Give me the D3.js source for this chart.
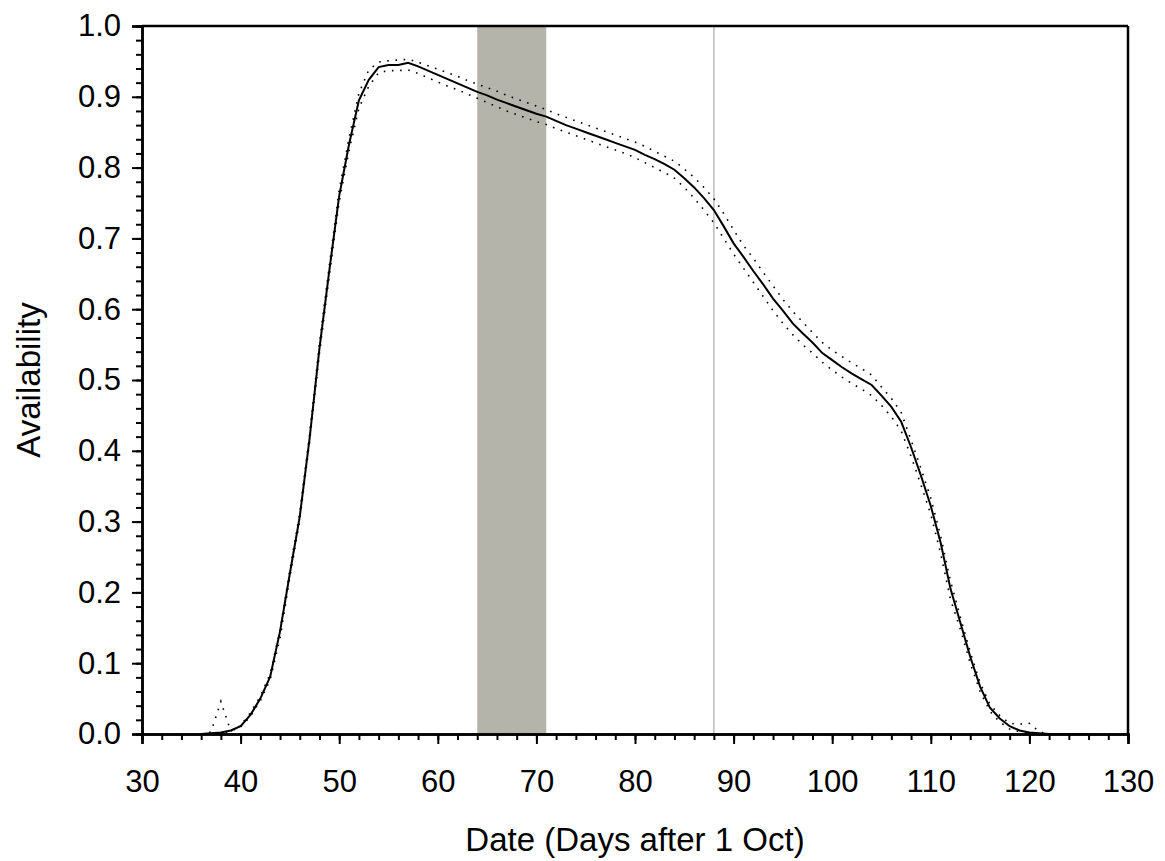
<!DOCTYPE html>
<html>
<head>
<meta charset="utf-8">
<script src="https://cdn.jsdelivr.net/npm/d3@7"></script>
<style>
body{margin:0;background:#fff;}
text{font-family:"Liberation Sans",Arial,sans-serif;fill:#000;}
</style>
</head>
<body>
<svg id="chart" width="1165" height="861"></svg>
<script>
// days after 1 Oct
var days = d3.range(36, 127);
var mean = [0,0.001,0.002,0.005,0.011,0.027,0.05,0.081,0.145,0.227,
  0.307,0.418,0.545,0.655,0.76,0.833,0.895,0.924,0.942,0.945,
  0.945,0.948,0.943,0.937,0.931,0.925,0.919,0.913,0.907,0.902,
  0.896,0.891,0.886,0.881,0.876,0.872,0.866,0.86,0.855,0.85,
  0.845,0.84,0.835,0.83,0.825,0.818,0.812,0.805,0.797,0.785,
  0.772,0.757,0.74,0.717,0.693,0.674,0.654,0.635,0.615,0.598,
  0.58,0.566,0.553,0.538,0.528,0.518,0.509,0.501,0.493,0.478,
  0.462,0.441,0.405,0.365,0.322,0.27,0.205,0.157,0.109,0.067,
  0.037,0.022,0.011,0.005,0.002,0.001,0,0,0,0,0];
var upper = [0,0.003,0.046,0.004,0.012,0.03,0.053,0.085,0.147,0.232,
  0.312,0.423,0.552,0.662,0.768,0.842,0.905,0.938,0.949,0.951,
  0.952,0.953,0.949,0.944,0.939,0.934,0.929,0.923,0.918,0.913,
  0.908,0.902,0.897,0.892,0.887,0.882,0.876,0.871,0.866,0.861,
  0.856,0.851,0.846,0.841,0.836,0.83,0.823,0.816,0.809,0.798,
  0.786,0.772,0.756,0.735,0.712,0.69,0.672,0.652,0.633,0.614,
  0.597,0.582,0.567,0.553,0.542,0.533,0.524,0.516,0.507,0.49,
  0.474,0.454,0.415,0.375,0.333,0.28,0.216,0.165,0.116,0.072,
  0.042,0.026,0.015,0.014,0.015,0.003,0,0,0,0,0];
var lower = [0,0,0.001,0.004,0.01,0.025,0.047,0.077,0.135,0.222,
  0.302,0.413,0.538,0.648,0.752,0.824,0.884,0.915,0.934,0.937,
  0.937,0.938,0.933,0.927,0.921,0.915,0.91,0.904,0.898,0.892,
  0.886,0.88,0.875,0.87,0.865,0.861,0.855,0.85,0.845,0.84,
  0.835,0.83,0.825,0.82,0.814,0.807,0.8,0.793,0.785,0.772,
  0.757,0.74,0.722,0.7,0.678,0.658,0.638,0.618,0.598,0.58,
  0.564,0.55,0.538,0.525,0.514,0.504,0.495,0.487,0.478,0.464,
  0.448,0.428,0.392,0.352,0.31,0.255,0.19,0.148,0.1,0.06,
  0.032,0.017,0.007,0.003,0.001,0,0,0,0,0,0];
var band = [64, 71];     // shaded period
var marker = 88;         // vertical reference line
var xTicks = d3.range(30, 131, 10);
var yTicks = d3.range(0, 1.01, 0.1);

var svg = d3.select("#chart");
var m = {left:142, right:37, top:26, bottom:127};
var W = 1165, H = 861;
var x = d3.scaleLinear().domain([30,130]).range([m.left, W-m.right]);
var y = d3.scaleLinear().domain([0,1]).range([H-m.bottom, m.top]);

svg.append("rect")
    .attr("x", x(band[0])).attr("y", y(1))
    .attr("width", x(band[1])-x(band[0]))
    .attr("height", y(0)-y(1))
    .attr("fill", "#b4b4ab");

svg.append("line")
    .attr("x1", x(marker)).attr("x2", x(marker))
    .attr("y1", y(0)).attr("y2", y(1))
    .attr("stroke", "#bbbbbb").attr("stroke-width", 1.5);

function series(vals){
    return days.map(function(d,i){return [d, vals[i]];});
}
var line = d3.line().x(function(d){return x(d[0]);}).y(function(d){return y(d[1]);});

[upper, lower].forEach(function(v){
    svg.append("path")
        .attr("d", line(series(v)))
        .attr("fill", "none")
        .attr("stroke", "#000")
        .attr("stroke-width", 1.6)
        .attr("stroke-dasharray", "1.6,6.6");
});
svg.append("path")
    .attr("d", line(series(mean)))
    .attr("fill", "none")
    .attr("stroke", "#000")
    .attr("stroke-width", 2);

// axes
var xAxis = d3.axisBottom(x).tickValues(xTicks).tickSize(10).tickPadding(26);
var xMinor = d3.axisBottom(x).tickValues(d3.range(30, 131, 2)).tickSize(6).tickFormat("");
var yAxis = d3.axisLeft(y).tickValues(yTicks).tickSize(10).tickPadding(11).tickFormat(d3.format(".1f"));
var yMinor = d3.axisLeft(y).tickValues(d3.range(0, 1.001, 0.02)).tickSize(6).tickFormat("");

function styleAxis(g){
    g.select(".domain").attr("stroke-width", 2.5);
    g.selectAll(".tick line").attr("stroke-width", 2);
    g.selectAll("text").style("font-size", "31px").style("font-family", "Liberation Sans, Arial, sans-serif");
}
svg.append("g").attr("transform", "translate(0," + y(0) + ")").call(xMinor).call(styleAxis);
svg.append("g").attr("transform", "translate(0," + y(0) + ")").call(xAxis).call(styleAxis);
svg.append("g").attr("transform", "translate(" + x(30) + ",0)").call(yMinor).call(styleAxis);
svg.append("g").attr("transform", "translate(" + x(30) + ",0)").call(yAxis).call(styleAxis);

// frame top and right
svg.append("line").attr("x1", x(30)).attr("x2", x(130)).attr("y1", y(1)).attr("y2", y(1))
    .attr("stroke", "#000").attr("stroke-width", 2.5);
svg.append("line").attr("x1", x(130)).attr("x2", x(130)).attr("y1", y(1)).attr("y2", y(0))
    .attr("stroke", "#000").attr("stroke-width", 2.5);

svg.append("text")
    .attr("x", (x(30)+x(130))/2).attr("y", 851)
    .attr("text-anchor", "middle")
    .style("font-size", "33px")
    .text("Date (Days after 1 Oct)");
svg.append("text")
    .attr("transform", "translate(40," + ((y(0)+y(1))/2) + ") rotate(-90)")
    .attr("text-anchor", "middle")
    .style("font-size", "33px")
    .text("Availability");
</script>
</body>
</html>
